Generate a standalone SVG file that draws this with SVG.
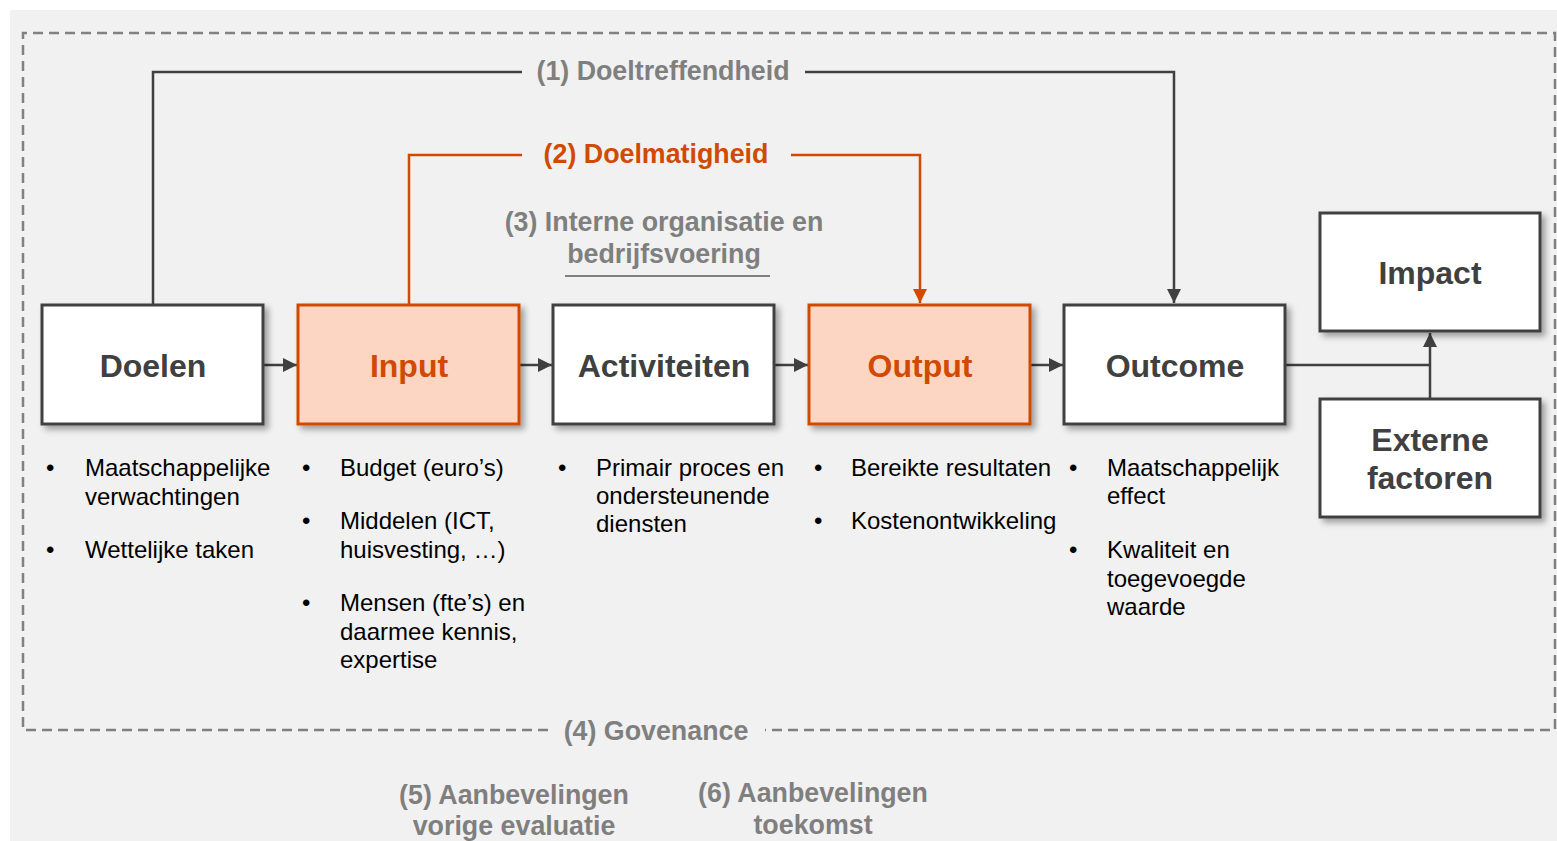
<svg xmlns="http://www.w3.org/2000/svg" width="1557" height="841" viewBox="0 0 1557 841">
<defs>
<style>
.lbl{font-family:"Liberation Sans",Arial,sans-serif;font-weight:bold;font-size:26.8px;fill:#7f7f7f;text-anchor:middle}
.org{fill:#d04a02}
.box{fill:#ffffff;stroke:#404040;stroke-width:3}
.obox{fill:#fdd6c3;stroke:#d04a02;stroke-width:3}
.bt{font-family:"Liberation Sans",Arial,sans-serif;font-weight:bold;font-size:32px;fill:#404040;text-anchor:middle}
.obt{fill:#d04a02}
.txt{font-family:"Liberation Sans",Arial,sans-serif;font-size:24px;fill:#000000}
.con{fill:none;stroke:#404040;stroke-width:2.5}
.ocon{fill:none;stroke:#d04a02;stroke-width:2.5}
</style>
<filter id="sh" x="-10%" y="-10%" width="130%" height="130%">
<feDropShadow dx="4" dy="4" stdDeviation="3" flood-color="#000" flood-opacity="0.35"/>
</filter>
<marker id="ah" markerUnits="userSpaceOnUse" markerWidth="14" markerHeight="14" refX="14" refY="7" orient="auto">
<path d="M0,0 L14,7 L0,14 z" fill="#404040"/>
</marker>
<marker id="oah" markerUnits="userSpaceOnUse" markerWidth="14" markerHeight="14" refX="14" refY="7" orient="auto">
<path d="M0,0 L14,7 L0,14 z" fill="#d04a02"/>
</marker>
</defs>
<rect x="10" y="10" width="1547" height="831" fill="#f1f1f1"/>
<path d="M548,730 H23 V33 H1555 V730 H765" fill="none" stroke="#808080" stroke-width="2.5" stroke-dasharray="10 6"/>

<g id="connectors">
<path class="con" d="M153,305 V72 H522"/>
<path class="con" d="M805,72 H1174 V303" marker-end="url(#ah)"/>
<path class="ocon" d="M409,305 V155 H522"/>
<path class="ocon" d="M791,155 H920 V303" marker-end="url(#oah)"/>
<path class="con" d="M264,365 H297" marker-end="url(#ah)"/>
<path class="con" d="M520,365 H552" marker-end="url(#ah)"/>
<path class="con" d="M775,365 H808" marker-end="url(#ah)"/>
<path class="con" d="M1031,365 H1063" marker-end="url(#ah)"/>
<path class="con" d="M1286,365 H1430"/>
<path class="con" d="M1430,398 V333" marker-end="url(#ah)"/>
<line x1="565" y1="276" x2="770" y2="276" stroke="#808080" stroke-width="2"/>
</g>

<text class="lbl" x="663" y="80">(1) Doeltreffendheid</text>
<text class="lbl org" x="656" y="163">(2) Doelmatigheid</text>
<text class="lbl" x="664" y="231">(3) Interne organisatie en</text>
<text class="lbl" x="664" y="263">bedrijfsvoering</text>
<text class="lbl" x="656" y="740">(4) Govenance</text>
<text class="lbl" x="514" y="804">(5) Aanbevelingen</text>
<text class="lbl" x="514" y="835">vorige evaluatie</text>
<text class="lbl" x="813" y="802">(6) Aanbevelingen</text>
<text class="lbl" x="813" y="834">toekomst</text>

<g id="doelen">
<rect class="box" x="42" y="305" width="221" height="119" filter="url(#sh)"/>
<text class="bt" x="153" y="377">Doelen</text>
</g>
<g id="input">
<rect class="obox" x="298" y="305" width="221" height="119" filter="url(#sh)"/>
<text class="bt obt" x="409" y="377">Input</text>
</g>
<g id="activiteiten">
<rect class="box" x="553" y="305" width="221" height="119" filter="url(#sh)"/>
<text class="bt" x="664" y="377">Activiteiten</text>
</g>
<g id="output">
<rect class="obox" x="809" y="305" width="221" height="119" filter="url(#sh)"/>
<text class="bt obt" x="920" y="377">Output</text>
</g>
<g id="outcome">
<rect class="box" x="1064" y="305" width="221" height="119" filter="url(#sh)"/>
<text class="bt" x="1175" y="377">Outcome</text>
</g>
<g id="impact">
<rect class="box" x="1320" y="213" width="220" height="118" filter="url(#sh)"/>
<text class="bt" x="1430" y="284">Impact</text>
</g>
<g id="externe">
<rect class="box" x="1320" y="399" width="220" height="118" filter="url(#sh)"/>
<text class="bt" x="1430" y="451">Externe</text>
<text class="bt" x="1430" y="489">factoren</text>
</g>

<g id="doelen-list" class="txt">
<text x="46" y="476">•</text><text x="85" y="476">Maatschappelijke</text>
<text x="85" y="505">verwachtingen</text>
<text x="46" y="558">•</text><text x="85" y="558">Wettelijke taken</text>
</g>
<g id="input-list" class="txt">
<text x="302" y="476">•</text><text x="340" y="476">Budget (euro’s)</text>
<text x="302" y="529">•</text><text x="340" y="529">Middelen (ICT,</text>
<text x="340" y="558">huisvesting, …)</text>
<text x="302" y="611">•</text><text x="340" y="611">Mensen (fte’s) en</text>
<text x="340" y="640">daarmee kennis,</text>
<text x="340" y="668">expertise</text>
</g>
<g id="activiteiten-list" class="txt">
<text x="558" y="476">•</text><text x="596" y="476">Primair proces en</text>
<text x="596" y="504">ondersteunende</text>
<text x="596" y="532">diensten</text>
</g>
<g id="output-list" class="txt">
<text x="814" y="476">•</text><text x="851" y="476">Bereikte resultaten</text>
<text x="814" y="529">•</text><text x="851" y="529">Kostenontwikkeling</text>
</g>
<g id="outcome-list" class="txt">
<text x="1069" y="476">•</text><text x="1107" y="476">Maatschappelijk</text>
<text x="1107" y="504">effect</text>
<text x="1069" y="558">•</text><text x="1107" y="558">Kwaliteit en</text>
<text x="1107" y="587">toegevoegde</text>
<text x="1107" y="615">waarde</text>
</g>
</svg>
